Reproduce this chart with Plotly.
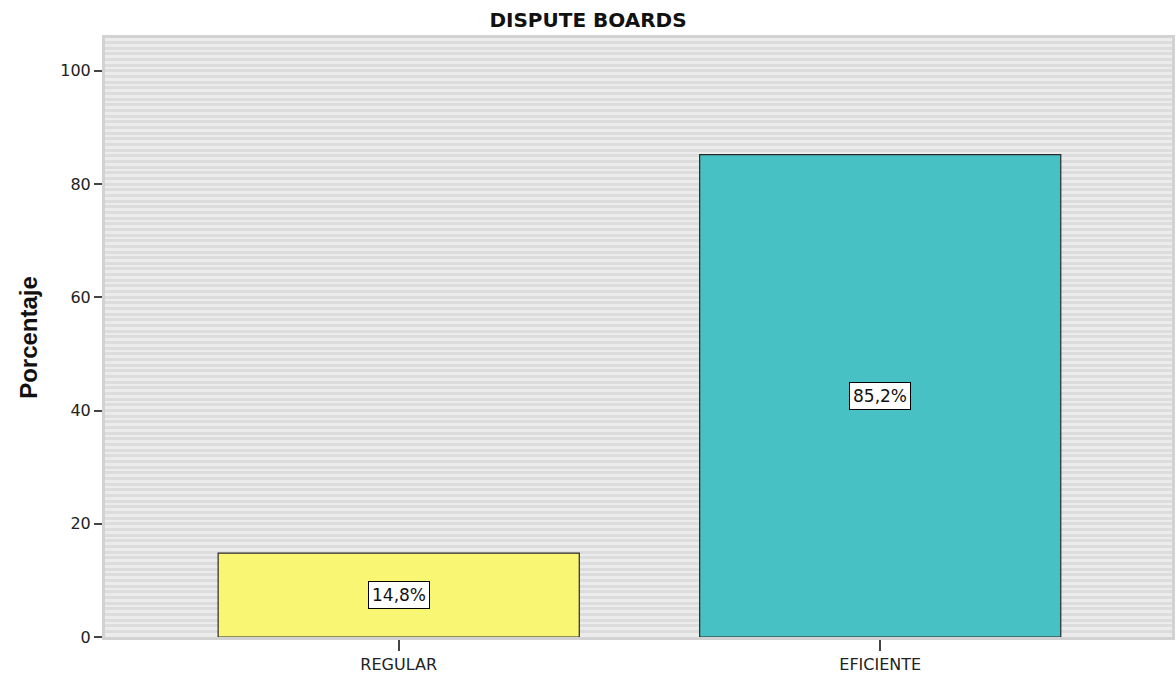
import plotly.graph_objects as go

categories = ["REGULAR", "EFICIENTE"]
percentages = [14.8, 85.2]
bar_colors = ["#F9F673", "#48C1C4"]
y_ticks = [0, 20, 40, 60, 80, 100]

FONT = "DejaVu Sans, Arial"

fig = go.Figure()
fig.add_trace(go.Bar(
    x=[0, 1], y=percentages, width=0.75,
    marker=dict(color=bar_colors, line=dict(color="#2a2a2a", width=1.2)),
    hoverinfo="skip",
))

for i, v in enumerate(percentages):
    fig.add_annotation(
        x=i, y=v / 2, text=f"{v:.1f}%".replace(".", ","),
        showarrow=False, bgcolor="white", bordercolor="black", borderwidth=1,
        borderpad=3, font=dict(family=FONT, size=17, color="#111"),
    )

fig.update_layout(
    width=1176, height=676,
    margin=dict(l=105, r=1, t=38, b=39),
    paper_bgcolor="white", plot_bgcolor="#ececec",
    showlegend=False,
    title=dict(text="<b>DISPUTE BOARDS</b>", x=0.5, xref="container", xanchor="center",
               y=0.97, yref="container", yanchor="middle",
               font=dict(family=FONT, size=20, color="#111")),
    font=dict(family=FONT, size=15, color="#222"),
)
fig.update_xaxes(
    range=[-0.61, 1.606], tickmode="array", tickvals=[0, 1], ticktext=categories,
    showgrid=False, zeroline=False,
    showline=True, linecolor="#d2d2d2", linewidth=3, mirror=True,
    ticks="outside", ticklen=11, tickwidth=1.5, tickcolor="#444",
    tickfont=dict(size=16),
)
fig.update_yaxes(
    range=[0, 105.8], tickmode="array", tickvals=y_ticks,
    showgrid=True, gridcolor="#dcdcdc", gridwidth=2.6, zeroline=False,
    minor=dict(dtick=1, showgrid=True, gridcolor="#dcdcdc", gridwidth=2.6, ticks=""),
    showline=True, linecolor="#d2d2d2", linewidth=3, mirror=True,
    ticks="outside", ticklen=8, tickwidth=1.5, tickcolor="#444",
    tickfont=dict(size=16),
    title=dict(text="<b>Porcentaje</b>", font=dict(family="Liberation Sans, Arial", size=24, color="#111"), standoff=16),
)

fig.write_html("out.html", config={"displayModeBar": False},
               post_script="document.body.style.margin='0';")
